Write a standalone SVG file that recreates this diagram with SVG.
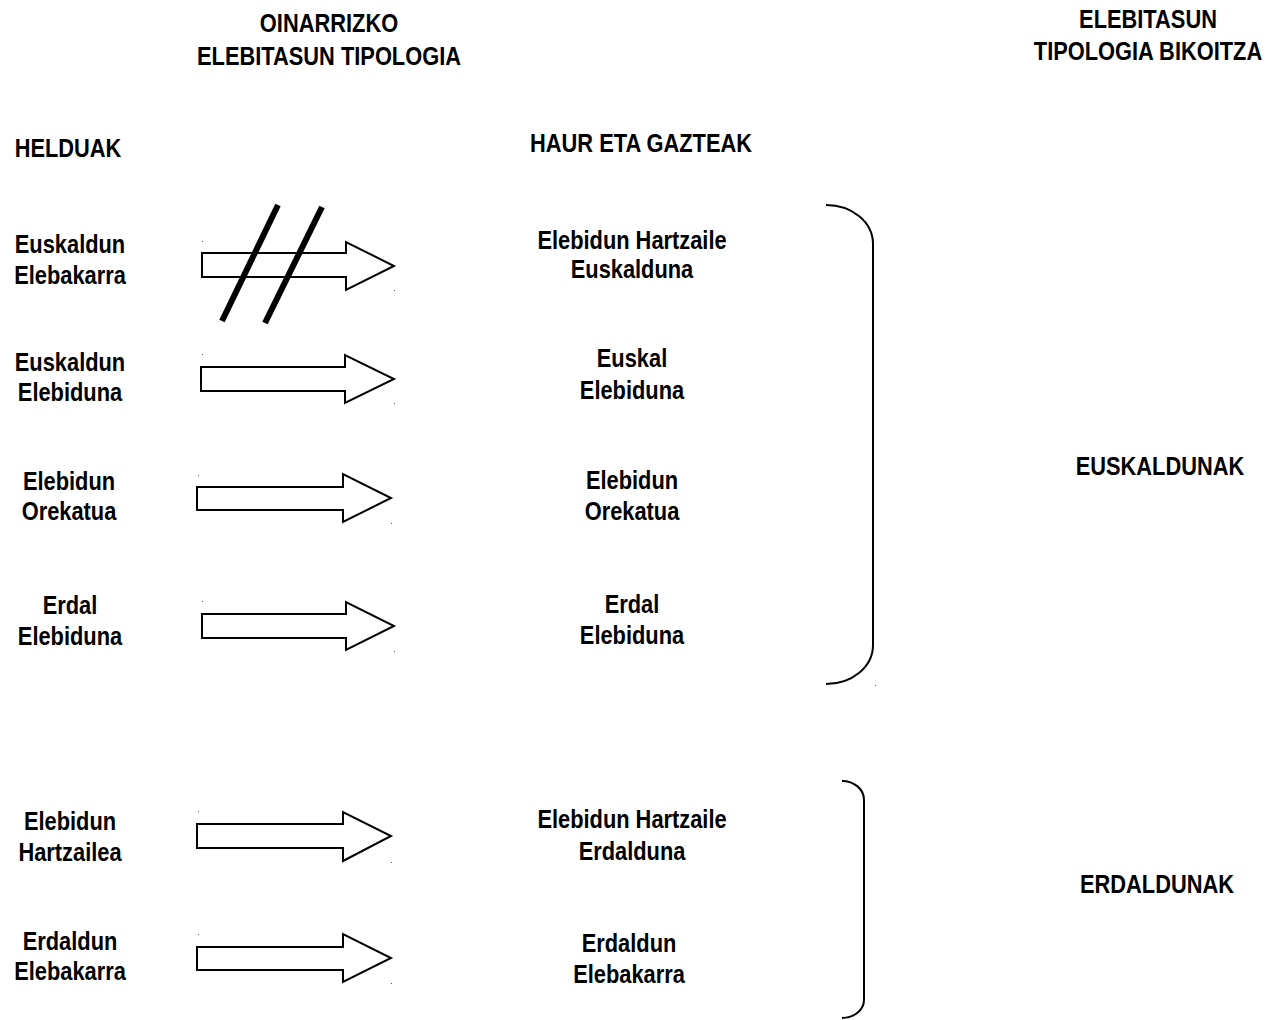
<svg xmlns="http://www.w3.org/2000/svg" width="1269" height="1020" viewBox="0 0 1269 1020">
<style>
text{font-family:"Liberation Sans",Arial,sans-serif;font-weight:bold;font-size:26px;fill:#000;text-anchor:middle}
.arrow{fill:#fff;stroke:#000;stroke-width:2;stroke-linejoin:miter}
.brace{fill:none;stroke:#000;stroke-width:2}
.slash{stroke:#000;stroke-width:6}
.dot{fill:#555}
</style>
<rect width="1269" height="1020" fill="#fff"/>
<g id="headers">
<text transform="translate(329,32) scale(0.84,1)">OINARRIZKO</text>
<text transform="translate(329,65) scale(0.84,1)">ELEBITASUN TIPOLOGIA</text>
<text transform="translate(1148,28) scale(0.84,1)">ELEBITASUN</text>
<text transform="translate(1148,60) scale(0.84,1)">TIPOLOGIA BIKOITZA</text>
<text transform="translate(68,157) scale(0.84,1)">HELDUAK</text>
<text transform="translate(641,152) scale(0.84,1)">HAUR ETA GAZTEAK</text>
</g>
<g id="left-labels">
<g id="l1"><text transform="translate(70,253) scale(0.84,1)">Euskaldun</text><text transform="translate(70,284) scale(0.84,1)">Elebakarra</text></g>
<g id="l2"><text transform="translate(70,371) scale(0.84,1)">Euskaldun</text><text transform="translate(70,401) scale(0.84,1)">Elebiduna</text></g>
<g id="l3"><text transform="translate(69,490) scale(0.84,1)">Elebidun</text><text transform="translate(69,520) scale(0.84,1)">Orekatua</text></g>
<g id="l4"><text transform="translate(70,614) scale(0.84,1)">Erdal</text><text transform="translate(70,645) scale(0.84,1)">Elebiduna</text></g>
<g id="l5"><text transform="translate(70,830) scale(0.84,1)">Elebidun</text><text transform="translate(70,861) scale(0.84,1)">Hartzailea</text></g>
<g id="l6"><text transform="translate(70,950) scale(0.84,1)">Erdaldun</text><text transform="translate(70,980) scale(0.84,1)">Elebakarra</text></g>
</g>
<g id="mid-labels">
<g id="m1"><text transform="translate(632,249) scale(0.84,1)">Elebidun Hartzaile</text><text transform="translate(632,278) scale(0.84,1)">Euskalduna</text></g>
<g id="m2"><text transform="translate(632,367) scale(0.84,1)">Euskal</text><text transform="translate(632,399) scale(0.84,1)">Elebiduna</text></g>
<g id="m3"><text transform="translate(632,489) scale(0.84,1)">Elebidun</text><text transform="translate(632,520) scale(0.84,1)">Orekatua</text></g>
<g id="m4"><text transform="translate(632,613) scale(0.84,1)">Erdal</text><text transform="translate(632,644) scale(0.84,1)">Elebiduna</text></g>
<g id="m5"><text transform="translate(632,828) scale(0.84,1)">Elebidun Hartzaile</text><text transform="translate(632,860) scale(0.84,1)">Erdalduna</text></g>
<g id="m6"><text transform="translate(629,952) scale(0.84,1)">Erdaldun</text><text transform="translate(629,983) scale(0.84,1)">Elebakarra</text></g>
</g>
<g id="right-labels">
<text transform="translate(1160,475) scale(0.84,1)">EUSKALDUNAK</text>
<text transform="translate(1157,893) scale(0.84,1)">ERDALDUNAK</text>
</g>
<g id="connectors">
<g id="a1"><polygon class="arrow" points="202,253 346,253 346,242 394,266 346,290 346,277 202,277"/><rect class="dot" x="202" y="241" width="1" height="1"/><rect class="dot" x="394" y="290" width="1" height="1"/></g>
<g id="slashes"><line class="slash" x1="278" y1="205" x2="222" y2="321"/><line class="slash" x1="322" y1="207" x2="265" y2="323"/></g>
<g id="a2"><polygon class="arrow" points="201,367 345,367 345,355 394,379 345,403 345,391 201,391"/><rect class="dot" x="202" y="354" width="1" height="1"/><rect class="dot" x="394" y="403" width="1" height="1"/></g>
<g id="a3"><polygon class="arrow" points="197,487 343,487 343,474 391,498 343,522 343,510 197,510"/><rect class="dot" x="198" y="475" width="1" height="1"/><rect class="dot" x="391" y="523" width="1" height="1"/></g>
<g id="a4"><polygon class="arrow" points="202,614 346,614 346,602 394,626 346,650 346,638 202,638"/><rect class="dot" x="202" y="601" width="1" height="1"/><rect class="dot" x="394" y="651" width="1" height="1"/></g>
<g id="a5"><polygon class="arrow" points="197,824 343,824 343,812 391,836 343,861 343,848 197,848"/><rect class="dot" x="198" y="811" width="1" height="1"/><rect class="dot" x="391" y="862" width="1" height="1"/></g>
<g id="a6"><polygon class="arrow" points="197,947 343,947 343,934 391,958 343,982 343,970 197,970"/><rect class="dot" x="198" y="934" width="1" height="1"/><rect class="dot" x="391" y="983" width="1" height="1"/></g>
<g id="brace1"><path class="brace" d="M826,205 C852,205 873,222 873,244 L873,645 C873,667 852,684 826,684"/><rect class="dot" x="875" y="685" width="1" height="1"/></g>
<g id="brace2"><path class="brace" d="M842,781 C854,781 864,789 864,800 L864,1000 C864,1010 854,1018 842,1018"/></g>
</g>
</svg>
